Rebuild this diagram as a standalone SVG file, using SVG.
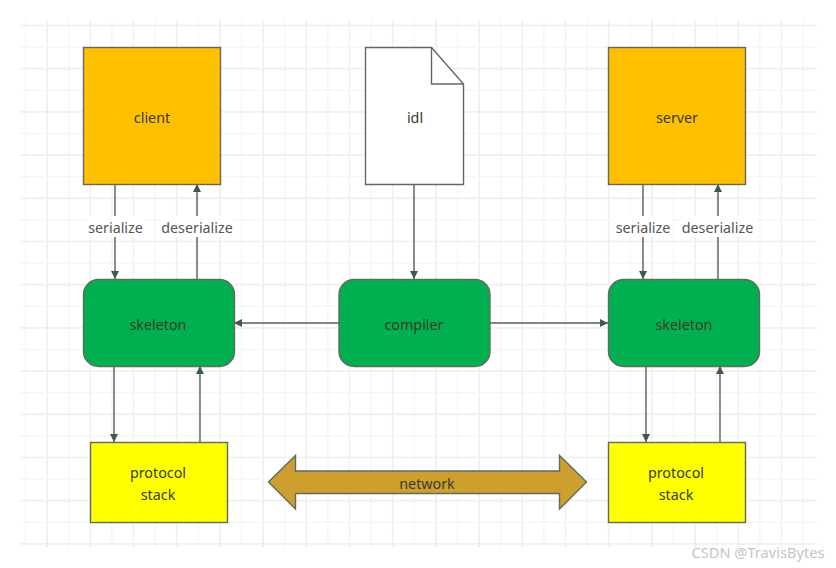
<svg xmlns="http://www.w3.org/2000/svg" width="836" height="568" viewBox="0 0 836 568">
<style>
text{font-family:"Noto Sans","Open Sans","Liberation Sans",sans-serif;font-size:14.3px;fill:#3a3a2a;text-anchor:middle}
.g1{stroke:#f0f0f0;stroke-width:1.7;fill:none}
.g2{stroke:#f5f5f5;stroke-width:1.3;fill:none}
.n{stroke:#5f6b62;stroke-width:1.4}
.c{stroke:#566059;stroke-width:1.4;fill:none;marker-end:url(#a)}
.lb{fill:#fff;stroke:none}
.lt{fill:#555}
</style>
<defs><marker id="a" markerUnits="userSpaceOnUse" markerWidth="9" markerHeight="8" refX="8" refY="4" orient="auto"><path d="M0 0L8 4L0 8Z" fill="#3f5a4c"/></marker></defs>
<rect width="836" height="568" fill="#fff"/>
<g id="grid">
<path class="g2" d="M25.500 20V548M68.700 20V548M111.900 20V548M155.100 20V548M198.300 20V548M241.500 20V548M284.700 20V548M327.900 20V548M371.100 20V548M414.300 20V548M457.500 20V548M500.700 20V548M543.900 20V548M587.100 20V548M630.300 20V548M673.500 20V548M716.700 20V548M759.900 20V548M803.100 20V548"/>
<path class="g1" d="M47.100 20V548M90.300 20V548M133.500 20V548M176.700 20V548M219.900 20V548M263.100 20V548M306.300 20V548M349.500 20V548M392.700 20V548M435.900 20V548M479.100 20V548M522.300 20V548M565.500 20V548M608.700 20V548M651.900 20V548M695.100 20V548M738.300 20V548M781.500 20V548"/>
<path class="g2" d="M20 47.100H817M20 90.300H817M20 133.500H817M20 176.700H817M20 219.900H817M20 263.100H817M20 306.300H817M20 349.500H817M20 392.700H817M20 435.900H817M20 479.100H817M20 522.300H817"/>
<path class="g1" d="M20 25.500H817M20 68.700H817M20 111.900H817M20 155.100H817M20 198.300H817M20 241.500H817M20 284.700H817M20 327.900H817M20 371.100H817M20 414.300H817M20 457.500H817M20 500.700H817M20 543.900H817"/>
</g>
<g id="connectors">
<path class="c" d="M115 184V279"/>
<path class="c" d="M197 279V184"/>
<path class="c" d="M643 184V279"/>
<path class="c" d="M718 279V184"/>
<path class="c" d="M414 185V279"/>
<path class="c" d="M339 323H234"/>
<path class="c" d="M490 323H608"/>
<path class="c" d="M114 366V442"/>
<path class="c" d="M200 442V366"/>
<path class="c" d="M646 366V442"/>
<path class="c" d="M720 442V366"/>
<rect class="lb" x="86" y="216" width="59" height="21"/><text class="lt" x="115.500" y="233">serialize</text>
<rect class="lb" x="160" y="216" width="74" height="21"/><text class="lt" x="197" y="233">deserialize</text>
<rect class="lb" x="614" y="216" width="58" height="21"/><text class="lt" x="643" y="233">serialize</text>
<rect class="lb" x="680" y="216" width="75" height="21"/><text class="lt" x="717.500" y="233">deserialize</text>
</g>
<g id="client"><rect class="n" x="83.500" y="47.500" width="137" height="137" fill="#ffc000"/><text x="152" y="123">client</text></g>
<g id="idl"><path class="n" d="M365.500 47.500H431.500L463.500 84V184.500H365.500Z" fill="#fff"/><path class="n" d="M431.500 47.500V84H463.500" fill="none"/><text x="415" y="123">idl</text></g>
<g id="server"><rect class="n" x="608.500" y="47.500" width="137" height="137" fill="#ffc000"/><text x="677" y="123">server</text></g>
<g id="skeleton-left"><rect class="n" x="83.500" y="279.500" width="151" height="87" rx="15" fill="#00b050"/><text x="158" y="330">skeleton</text></g>
<g id="compiler"><rect class="n" x="339" y="279.500" width="151" height="87" rx="15" fill="#00b050"/><text x="414" y="330">compiler</text></g>
<g id="skeleton-right"><rect class="n" x="608.500" y="279.500" width="151" height="87" rx="15" fill="#00b050"/><text x="684" y="330">skeleton</text></g>
<g id="protocol-left"><rect class="n" x="90.500" y="442.500" width="137" height="80" fill="#ffff00"/><text x="158" y="478">protocol</text><text x="158" y="500">stack</text></g>
<g id="protocol-right"><rect class="n" x="608.500" y="442.500" width="137" height="80" fill="#ffff00"/><text x="676" y="478">protocol</text><text x="676" y="500">stack</text></g>
<g id="network"><path class="n" d="M268.500 482L295.500 455.500V471H559.500V455.500L586.500 482L559.500 509V493.500H295.500V509Z" fill="#cda02e"/><text x="427" y="489">network</text></g>
<text x="758" y="558" style="fill:#c4c4c4;font-size:14.6px">CSDN @TravisBytes</text>
</svg>
